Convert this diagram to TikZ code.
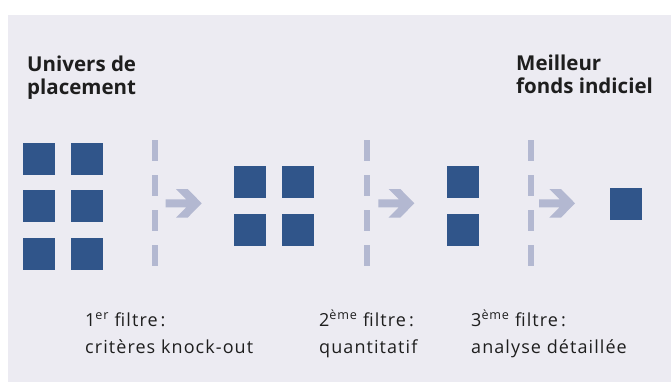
\documentclass[tikz,border=0pt]{standalone}
\usepackage{fontspec}
\setmainfont{Open Sans}
\newfontfamily\capfont[LetterSpace=6]{Open Sans}
\definecolor{bgc}{HTML}{ECEBF2}
\definecolor{sqc}{HTML}{30558A}
\definecolor{fltc}{HTML}{B3B8D1}
\definecolor{txc}{HTML}{1E1E1E}
\tikzset{
  sq/.style={fill=sqc, draw=none, minimum size=32pt, inner sep=0pt, outer sep=0pt, anchor=north west},
  filt/.style={draw=fltc, line width=6pt, dash pattern=on 21pt off 14pt},
  headtxt/.style={font=\fontsize{20.5}{23}\selectfont\bfseries, text=txc, align=left, inner sep=0pt, anchor=base west},
  captxt/.style={font=\capfont\fontsize{18}{27}\selectfont, text=txc, align=left, inner sep=0pt, anchor=base west},
  farrow/.pic={\fill[fltc] (0,-4) -- (20.6,-4) -- (10.3,-14.3) -- (22,-14.3) -- (36,0) -- (22,14.3) -- (10.3,14.3) -- (20.6,4) -- (0,4) -- cycle;}
}
\begin{document}
\begin{tikzpicture}[x=1pt,y=-1pt]
\useasboundingbox (0,0) rectangle (671,383);
\fill[white] (0,0) rectangle (671,383);
\fill[bgc] (8,15) rectangle (671,382);
% headings (base anchor = baseline of last line)
\node[headtxt] (univ) at (27,94) {Univers de\\placement};
\node[headtxt] (best) at (516,93) {Meilleur\\fonds indiciel};
% first group
\node[sq] (a1) at (23,143) {};
\node[sq] (a2) at (71,143) {};
\node[sq] (a3) at (23,190) {};
\node[sq] (a4) at (71,190) {};
\node[sq] (a5) at (23,238) {};
\node[sq] (a6) at (71,238) {};
% second group
\node[sq] (b1) at (234,166) {};
\node[sq] (b2) at (282,166) {};
\node[sq] (b3) at (234,214) {};
\node[sq] (b4) at (282,214) {};
% third group
\node[sq] (c1) at (447,166) {};
\node[sq] (c2) at (447,214) {};
% final
\node[sq] (d1) at (610,188) {};
% filters
\coordinate (f1t) at (154.7,140);
\coordinate (f1b) at (154.7,267);
\coordinate (f2t) at (367.3,140);
\coordinate (f2b) at (367.3,267);
\coordinate (f3t) at (530.7,140);
\coordinate (f3b) at (530.7,267);
\draw[filt] (f1t) -- (f1b);
\draw[filt] (f2t) -- (f2b);
\draw[filt] (f3t) -- (f3b);
\pic at (165.7,203.3) {farrow};
\pic at (378.3,203.3) {farrow};
\pic at (539,203.3) {farrow};
% captions
\node[captxt] (cap1) at (85,353) {1\textsuperscript{er} filtre\,:\\critères knock-out};
\node[captxt] (cap2) at (319,353) {2\textsuperscript{ème} filtre\,:\\quantitatif};
\node[captxt] (cap3) at (471,353) {3\textsuperscript{ème} filtre\,:\\analyse détaillée};
\end{tikzpicture}
\end{document}
